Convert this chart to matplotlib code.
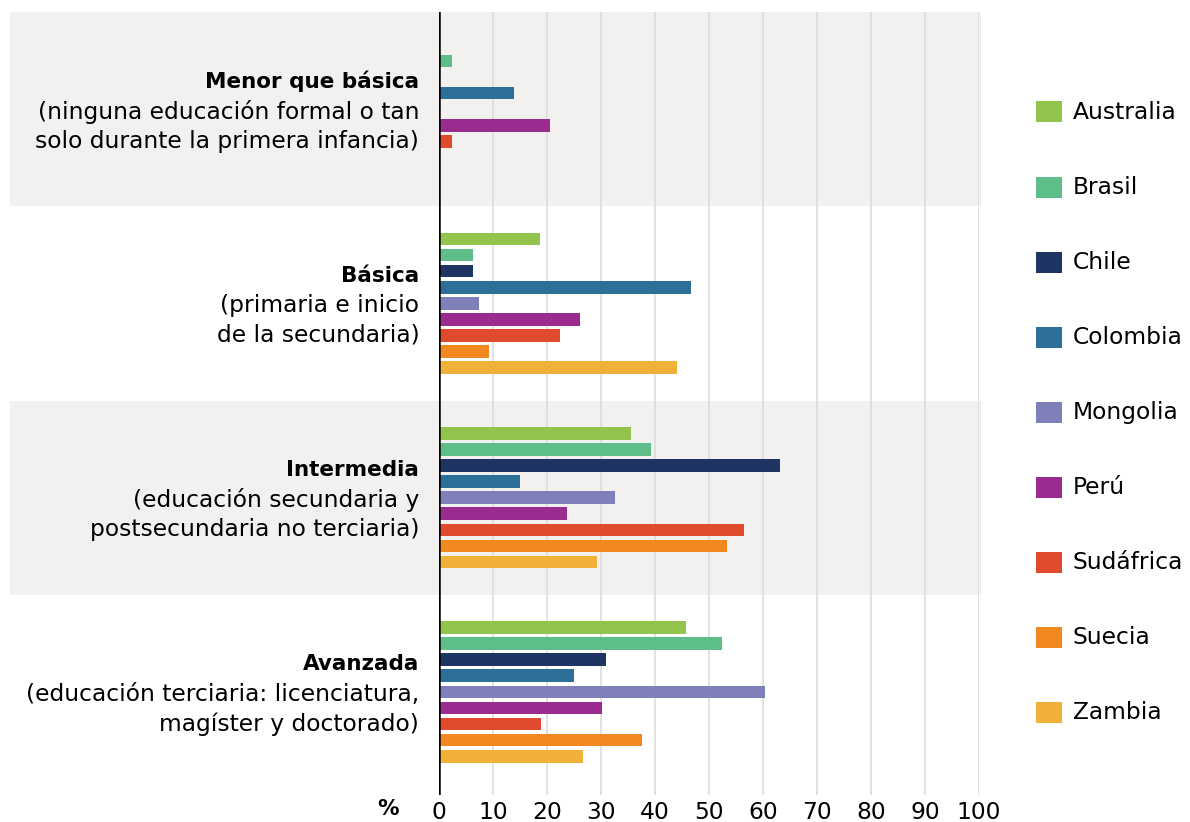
import matplotlib.pyplot as plt
import numpy as np
from matplotlib.patches import Rectangle
from matplotlib.transforms import blended_transform_factory

# datos
paises = ['Australia', 'Brasil', 'Chile', 'Colombia', 'Mongolia', 'Perú', 'Sudáfrica', 'Suecia', 'Zambia']
colores = ['#92C34C', '#5DBE8A', '#1E3462', '#2C7099', '#7F80BA', '#9A2B8F', '#E04B2D', '#F18820', '#F1B038']

titulos = ['Menor que básica', 'Básica', 'Intermedia', 'Avanzada']
detalles = [
    ['(ninguna educación formal o tan', 'solo durante la primera infancia)'],
    ['(primaria e inicio', 'de la secundaria)'],
    ['(educación secundaria y', 'postsecundaria no terciaria)'],
    ['(educación terciaria: licenciatura,', 'magíster y doctorado)'],
]

menor = [0, 2.4, 0, 13.9, 0, 20.6, 2.4, 0, 0]
basica = [18.6, 6.2, 6.2, 46.7, 7.3, 26.0, 22.3, 9.2, 44.1]
intermedia = [35.6, 39.3, 63.2, 14.9, 32.5, 23.6, 56.5, 53.4, 29.2]
avanzada = [45.8, 52.3, 30.8, 24.9, 60.4, 30.1, 18.8, 37.6, 26.7]
valores = [menor, basica, intermedia, avanzada]

ticks = list(range(0, 101, 10))

plt.rcParams['font.family'] = ['DejaVu Sans']
fs = 16.8
fs_b = 15.5

fig = plt.figure(figsize=(11.9, 8.22), dpi=100)
W, H = 1190, 822
ax = fig.add_axes([439.3 / W, 1 - 795 / H, (979 - 439.3) / W, (795 - 12) / H])
ax.set_facecolor('none')

paso = 0.0829
alto = 0.065
for g, vals in enumerate(valores):
    for i, v in enumerate(vals):
        y = g + 0.5 + (i - 4) * paso
        ax.barh(y, v, height=alto, color=colores[i], zorder=3)

# bandas grises
trans = blended_transform_factory(fig.transFigure, ax.transData)
for g in [0, 2]:
    ax.add_patch(Rectangle((10 / W, g), (981 - 10) / W, 1, transform=trans,
                           facecolor='#F2F1EF', edgecolor='none', zorder=0, clip_on=False))

ax.set_xlim(0, 100)
ax.set_ylim(4 + 6 / 194.3, 0)
ax.set_xticks(ticks)
ax.set_yticks([])
for t in ticks[1:]:
    ax.axvline(t, color='#DADADA', lw=1.1, zorder=1)
ax.axvline(0, color='black', lw=1.8, zorder=4)
for s in ax.spines.values():
    s.set_visible(False)
ax.tick_params(axis='x', length=0, pad=4, labelsize=fs)

ax.annotate('%', xy=(0, 0), xycoords='axes fraction', xytext=(-51, -14),
            textcoords='offset pixels', ha='center', va='center',
            fontsize=fs_b, fontweight='bold')

for g in range(4):
    yc = g + 0.5
    ax.annotate(titulos[g], xy=(0, yc), xycoords=('axes fraction', 'data'),
                xytext=(-20, 29.5), textcoords='offset pixels', ha='right',
                va='center_baseline', fontsize=fs_b, fontweight='bold')
    for k, linea in enumerate(detalles[g]):
        ax.annotate(linea, xy=(0, yc), xycoords=('axes fraction', 'data'),
                    xytext=(-20, -29.5 * k), textcoords='offset pixels', ha='right',
                    va='center_baseline', fontsize=fs)

# leyenda
for i, p in enumerate(paises):
    yc = 112 + i * 75.1
    fig.add_artist(Rectangle((1036 / W, 1 - (yc + 10.5) / H), 26 / W, 21 / H,
                             transform=fig.transFigure, facecolor=colores[i], edgecolor='none'))
    fig.text(1073 / W, 1 - yc / H, p, ha='left', va='center', fontsize=fs)

fig.savefig('out.png', dpi=100)
